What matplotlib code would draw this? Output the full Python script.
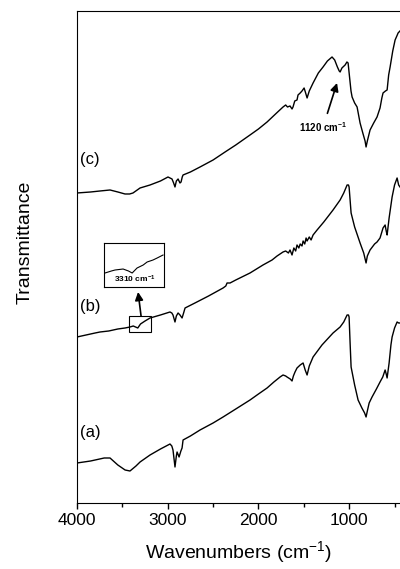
import matplotlib
matplotlib.use('Agg')
import matplotlib.pyplot as plt
from matplotlib.patches import Rectangle

plt.rcParams['font.family'] = ['Liberation Sans', 'DejaVu Sans']
plt.rcParams['mathtext.default'] = 'regular'

# spectrum (a)
wn_a = [4000, 3850, 3700, 3636, 3550, 3470, 3416, 3350, 3305, 3195, 3080, 2975, 2955, 2942, 2920,
        2905, 2897, 2875, 2855, 2842, 2831, 2750, 2644, 2500, 2390, 2250, 2093, 2000, 1905, 1830,
        1762, 1729, 1700, 1685, 1650, 1630, 1615, 1597, 1575, 1540, 1508, 1485, 1464, 1440, 1398,
        1300, 1178, 1100, 1060, 1023, 1008, 1001, 990, 979, 940, 902, 860, 830, 814, 800, 780,
        748, 700, 660, 630, 604, 592, 582, 560, 540, 527, 500, 472, 455, 440]
t_a = [40, 42, 45, 45, 38, 33, 32, 37, 41, 48, 54, 59, 57, 53, 36,
       47, 51, 46, 52, 55, 63, 67, 73, 80, 86, 94, 103, 109, 115, 121,
       126, 128, 127, 126, 124, 122, 127, 131, 135, 138, 140, 133, 128, 137, 146,
       158, 170, 176, 181, 188, 188, 186, 160, 136, 118, 103, 95, 90, 86, 92, 100,
       106, 114, 121, 126, 133, 129, 125, 140, 158, 166, 175, 181, 180, 180]

# spectrum (b)
wn_b = [4000, 3900, 3800, 3746, 3650, 3550, 3470, 3416, 3380, 3330, 3300, 3250, 3195, 3080, 2975,
        2955, 2942, 2920, 2905, 2886, 2865, 2842, 2825, 2809, 2700, 2550, 2390, 2360, 2346, 2313,
        2250, 2093, 1950, 1850, 1795, 1762, 1729, 1700, 1670, 1652, 1630, 1610, 1590, 1575, 1555,
        1540, 1520, 1508, 1490, 1475, 1464, 1440, 1420, 1398, 1354, 1280, 1178, 1100, 1060, 1023,
        1008, 1001, 990, 979, 940, 880, 840, 814, 800, 770, 720, 693, 660, 627, 604, 592, 582, 560,
        527, 500, 472, 455, 440]
t_b = [166, 168, 170, 171, 172, 174, 175, 176, 177, 175, 179, 182, 185, 188, 191,
       190, 188, 181, 187, 190, 188, 185, 190, 195, 200, 207, 215, 217, 220, 220,
       223, 230, 238, 243, 247, 249, 251, 252, 250, 253, 248, 255, 252, 258, 255,
       259, 257, 262, 259, 265, 262, 266, 263, 268, 273, 281, 293, 303, 310, 318,
       318, 316, 303, 290, 276, 260, 250, 240, 247, 253, 259, 261, 265, 275, 278, 272, 268, 285,
       306, 318, 325, 318, 316]

# spectrum (c)
wn_c = [4000, 3850, 3746, 3636, 3550, 3471, 3420, 3383, 3305, 3195, 3080, 2997, 2975, 2953, 2935,
        2920, 2905, 2886, 2865, 2853, 2840, 2831, 2750, 2644, 2500, 2368, 2250, 2093, 2000, 1905,
        1800, 1729, 1700, 1680, 1652, 1630, 1619, 1600, 1575, 1564, 1540, 1520, 1497, 1480, 1464,
        1440, 1398, 1340, 1288, 1240, 1189, 1160, 1130, 1110, 1100, 1080, 1045, 1025, 1012, 995,
        980, 968, 940, 913, 880, 850, 825, 814, 800, 770, 730, 693, 660, 640, 627, 600, 582, 565,
        549, 520, 494, 470, 461, 440]
t_c = [310, 311, 312, 313, 311, 309, 309, 310, 315, 318, 322, 326, 325, 324, 320,
       316, 322, 324, 320, 321, 326, 328, 331, 336, 343, 351, 358, 368, 374, 381,
       390, 396, 398, 396, 397, 394, 396, 402, 403, 408, 410, 412, 415, 410, 405,
       412, 420, 430, 436, 442, 446, 443, 436, 432, 431, 435, 438, 441, 440, 425,
       412, 406, 400, 396, 380, 370, 362, 356, 362, 373, 380, 386, 395, 405, 410, 412, 413, 428,
       436, 452, 463, 468, 470, 472]

# zoomed region of (b) around 3310 cm-1
wn_inset = [3426, 3400, 3385, 3352, 3330, 3315, 3295, 3270, 3254, 3230, 3213, 3189]
t_inset = [14, 16, 17, 18, 16, 14, 19, 22, 25, 27, 29, 32]

fig = plt.figure(figsize=(4, 5.69), dpi=100)
ax = fig.add_axes([0.1925, 0.116, 0.8075, 0.8647])

for wn, t in [(wn_a, t_a), (wn_b, t_b), (wn_c, t_c)]:
    ax.plot(wn, t, color='black', lw=1.0)

ax.set_xlim(4000, 440)
ax.set_ylim(0, 492)
ax.set_xticks([4000, 3000, 2000, 1000])
ax.set_xticks([3500, 2500, 1500, 500], minor=True)
ax.set_yticks([])
ax.spines['right'].set_visible(False)
ax.tick_params(axis='x', which='major', length=4, width=1, labelsize=12.5, pad=3)
ax.tick_params(axis='x', which='minor', length=3, width=1)

ax.set_xlabel('Wavenumbers (cm$^{-1}$)', fontsize=14, labelpad=8)
ax.set_ylabel('Transmittance', fontsize=14)
ax.yaxis.set_label_coords(-0.135, 0.53)

ax.text(3965, 343, '(c)', fontsize=12, va='center')
ax.text(3965, 196, '(b)', fontsize=12, va='center')
ax.text(3965, 70, '(a)', fontsize=12, va='center')

ax.annotate('1120 cm$^{-1}$', xy=(1134, 420), xytext=(1288, 376), ha='center', va='center',
            fontsize=7, fontweight='bold',
            arrowprops=dict(arrowstyle='-|>', color='black', lw=1.2, mutation_scale=12,
                            shrinkA=3, shrinkB=0))

ax.add_patch(Rectangle((3185, 171), 245, 16, fill=False, ec='black', lw=0.8))
ax.annotate('', xy=(3327, 211), xytext=(3294, 187),
            arrowprops=dict(arrowstyle='-|>', color='black', lw=1.2, mutation_scale=12,
                            shrinkA=0, shrinkB=0))

ins = fig.add_axes([0.26, 0.4956, 0.15, 0.0773])
ins.plot(wn_inset, t_inset, color='black', lw=0.8)
ins.set_xlim(3430, 3185)
ins.set_ylim(0, 44)
ins.set_xticks([])
ins.set_yticks([])
for s in ins.spines.values():
    s.set_linewidth(0.8)
ins.text(3305, 8, '3310 cm$^{-1}$', fontsize=6, fontweight='bold', ha='center', va='center')

fig.savefig('out.png', dpi=100)
